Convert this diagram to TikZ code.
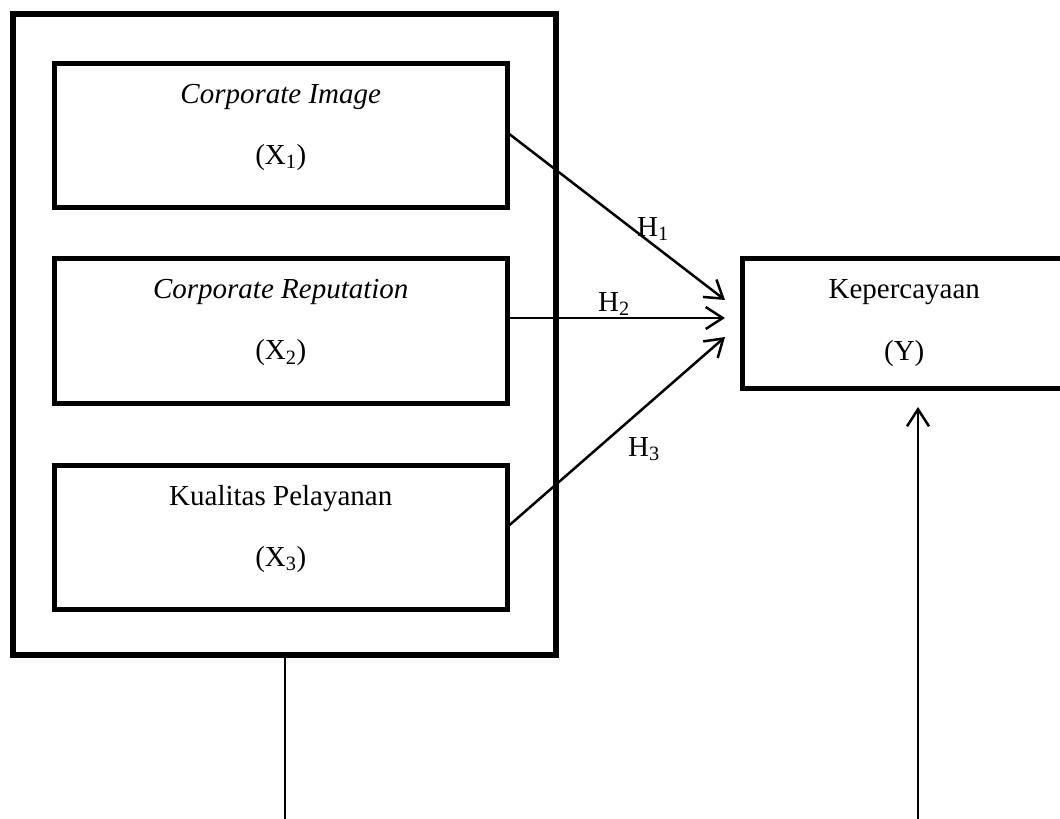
\documentclass[tikz,border=0pt]{standalone}
\usepackage{fontspec}
\setmainfont{Liberation Serif}
\usetikzlibrary{arrows.meta}

\begin{document}
\begin{tikzpicture}[x=1pt,y=-1pt,
  every node/.style={font=\fontsize{29}{34}\selectfont},
  frame/.style={draw,line width=5.5pt,outer sep=0pt,inner sep=0pt},
  varbox/.style={draw,line width=5pt,outer sep=0pt,inner sep=0pt},
  txt/.style={anchor=base,inner sep=0pt},
  arr/.style={line width=2.5pt,-{Straight Barb[length=17pt,width=22pt]}},
  link/.style={line width=2pt}]
  \useasboundingbox (0,0) rectangle (1060,819);
  \clip (0,0) rectangle (1060,819);

  % frame around the three independent variables
  \node[frame,minimum width=543pt,minimum height=641pt] (outer) at (284.5,334.5) {};

  % independent variables
  \node[varbox,minimum width=452.5pt,minimum height=144.5pt] (x1) at (280.75,135.25) {};
  \node[varbox,minimum width=452.5pt,minimum height=144.5pt] (x2) at (280.75,330.75) {};
  \node[varbox,minimum width=452.5pt,minimum height=144.5pt] (x3) at (280.75,537.25) {};

  \node[txt] (x1a) at ([yshift=-40pt]x1.north) {\textit{Corporate Image}};
  \node[txt] (x1b) at ([yshift=-101pt]x1.north) {(X\textsubscript{1})};
  \node[txt] (x2a) at ([yshift=-40pt]x2.north) {\textit{Corporate Reputation}};
  \node[txt] (x2b) at ([yshift=-101pt]x2.north) {(X\textsubscript{2})};
  \node[txt] (x3a) at ([yshift=-40pt]x3.north) {Kualitas Pelayanan};
  \node[txt] (x3b) at ([yshift=-101pt]x3.north) {(X\textsubscript{3})};

  % dependent variable (runs past the right edge)
  \node[varbox,minimum width=323.5pt,minimum height=130pt] (y) at (904.25,323.5) {};
  \node[txt] (ya) at ([yshift=-40pt]y.north) {Kepercayaan};
  \node[txt] (yb) at ([yshift=-101.5pt]y.north) {(Y)};

  % hypotheses
  \draw[arr] ([yshift=3pt]x1.east) -- ([xshift=-17.5pt,yshift=23.5pt]y.west);
  \draw[arr] ([yshift=12.75pt]x2.east) -- ([xshift=-17.5pt,yshift=5.5pt]y.west);
  \draw[arr] ([yshift=10pt]x3.east) -- ([xshift=-17.5pt,yshift=-13.5pt]y.west);

  \node[txt,anchor=base west] (h1) at (637,236) {H\textsubscript{1}};
  \node[txt,anchor=base west] (h2) at (598,311) {H\textsubscript{2}};
  \node[txt,anchor=base west] (h3) at (628,456) {H\textsubscript{3}};

  % lines leaving the picture at the bottom
  \coordinate (lbot) at (284.5,819);
  \coordinate (rbot) at (918,819);
  \draw[link] (outer.south) -- (lbot);
  \draw[arr] (rbot) -- ([xshift=13.75pt,yshift=-18.5pt]y.south);
\end{tikzpicture}
\end{document}
